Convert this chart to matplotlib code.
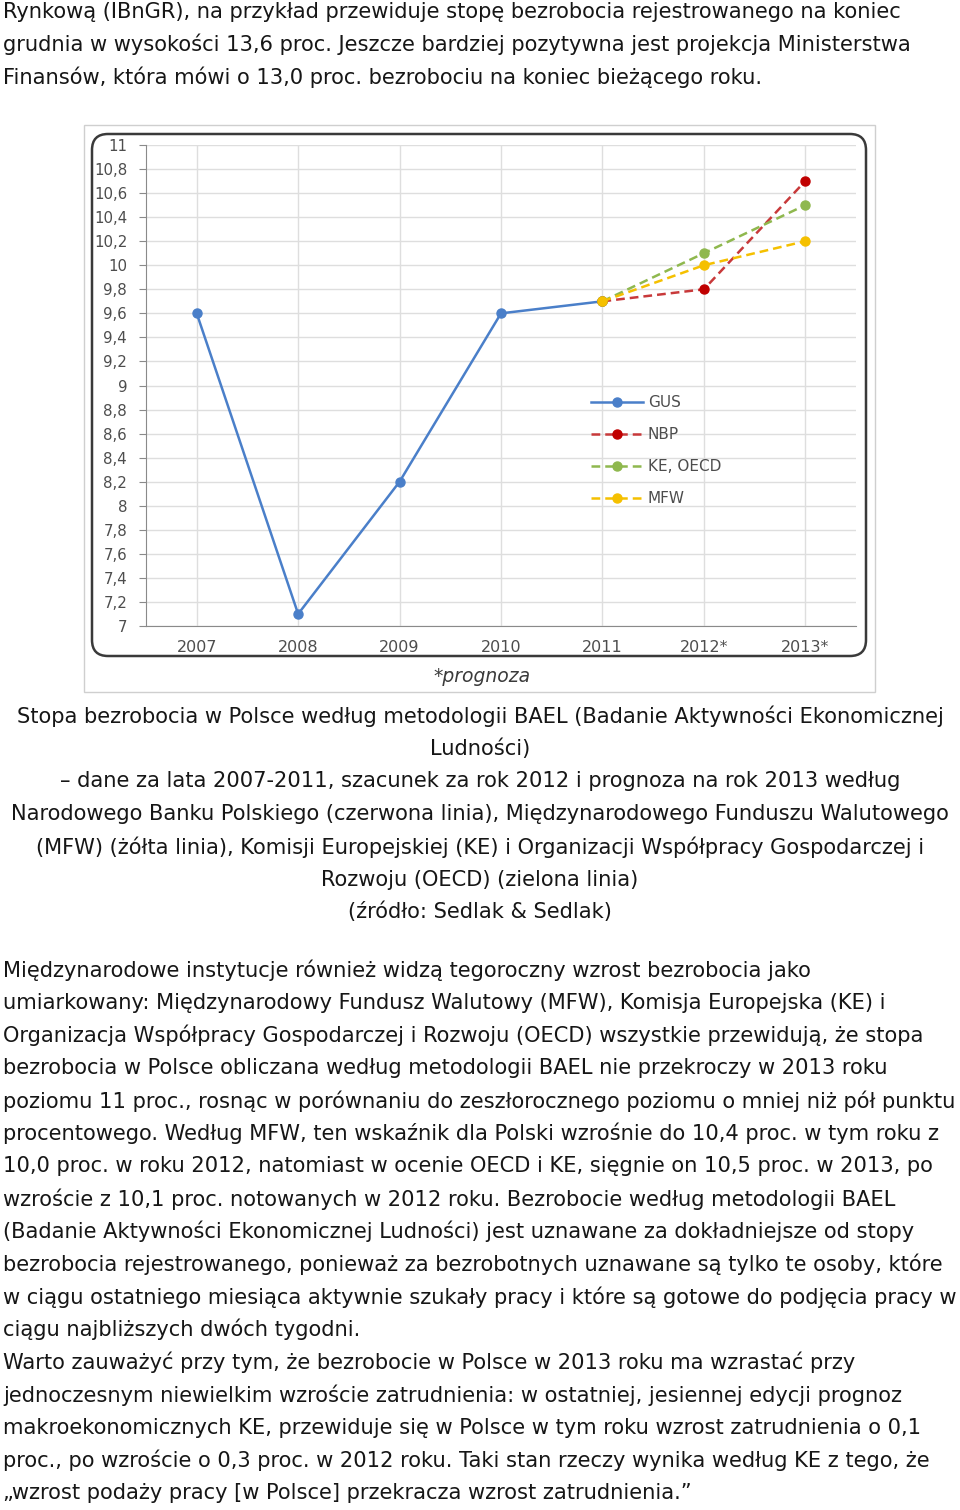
import matplotlib.pyplot as plt
from matplotlib.patches import FancyBboxPatch, Rectangle

W, H = 960, 1510

# chart data
years = ["2007", "2008", "2009", "2010", "2011", "2012*", "2013*"]
gus = [9.6, 7.1, 8.2, 9.6, 9.7]
nbp = [9.7, 9.8, 10.7]
ke_oecd = [9.7, 10.1, 10.5]
mfw = [9.7, 10.0, 10.2]
yticks = [7 + 0.2 * i for i in range(21)]

# page text
top_lines = [
    "Rynkową (IBnGR), na przykład przewiduje stopę bezrobocia rejestrowanego na koniec",
    "grudnia w wysokości 13,6 proc. Jeszcze bardziej pozytywna jest projekcja Ministerstwa",
    "Finansów, która mówi o 13,0 proc. bezrobociu na koniec bieżącego roku.",
]
caption_lines = [
    "Stopa bezrobocia w Polsce według metodologii BAEL (Badanie Aktywności Ekonomicznej",
    "Ludności)",
    "– dane za lata 2007-2011, szacunek za rok 2012 i prognoza na rok 2013 według",
    "Narodowego Banku Polskiego (czerwona linia), Międzynarodowego Funduszu Walutowego",
    "(MFW) (żółta linia), Komisji Europejskiej (KE) i Organizacji Współpracy Gospodarczej i",
    "Rozwoju (OECD) (zielona linia)",
    "(źródło: Sedlak & Sedlak)",
]
body_lines = [
    "Międzynarodowe instytucje również widzą tegoroczny wzrost bezrobocia jako",
    "umiarkowany: Międzynarodowy Fundusz Walutowy (MFW), Komisja Europejska (KE) i",
    "Organizacja Współpracy Gospodarczej i Rozwoju (OECD) wszystkie przewidują, że stopa",
    "bezrobocia w Polsce obliczana według metodologii BAEL nie przekroczy w 2013 roku",
    "poziomu 11 proc., rosnąc w porównaniu do zeszłorocznego poziomu o mniej niż pół punktu",
    "procentowego. Według MFW, ten wskaźnik dla Polski wzrośnie do 10,4 proc. w tym roku z",
    "10,0 proc. w roku 2012, natomiast w ocenie OECD i KE, sięgnie on 10,5 proc. w 2013, po",
    "wzroście z 10,1 proc. notowanych w 2012 roku. Bezrobocie według metodologii BAEL",
    "(Badanie Aktywności Ekonomicznej Ludności) jest uznawane za dokładniejsze od stopy",
    "bezrobocia rejestrowanego, ponieważ za bezrobotnych uznawane są tylko te osoby, które",
    "w ciągu ostatniego miesiąca aktywnie szukały pracy i które są gotowe do podjęcia pracy w",
    "ciągu najbliższych dwóch tygodni.",
    "Warto zauważyć przy tym, że bezrobocie w Polsce w 2013 roku ma wzrastać przy",
    "jednoczesnym niewielkim wzroście zatrudnienia: w ostatniej, jesiennej edycji prognoz",
    "makroekonomicznych KE, przewiduje się w Polsce w tym roku wzrost zatrudnienia o 0,1",
    "proc., po wzroście o 0,3 proc. w 2012 roku. Taki stan rzeczy wynika według KE z tego, że",
    "„wzrost podaży pracy [w Polsce] przekracza wzrost zatrudnienia.”",
]

plt.rcParams['font.family'] = ['DejaVu Sans']
fig = plt.figure(figsize=(W / 100, H / 100), dpi=100)

def fy(px):
    return 1 - px / H

TXT = '#161616'
FS = 15.1
LH = 32.7

for i, s in enumerate(top_lines):
    fig.text(3 / W, fy(12 + i * LH), s, fontsize=FS, color=TXT, va='center', ha='left')
for i, s in enumerate(caption_lines):
    fig.text(0.5, fy(716 + i * LH), s, fontsize=FS, color=TXT, va='center', ha='center')
for i, s in enumerate(body_lines):
    fig.text(3 / W, fy(970 + i * LH), s, fontsize=FS, color=TXT, va='center', ha='left')

# frames around the chart (inches from bottom-left)
def box(x0, y0, x1, y1):
    return x0 / 100, (H - y1) / 100, (x1 - x0) / 100, (y1 - y0) / 100

bx, by, bw, bh = box(84, 125, 875, 692)
fig.patches.append(Rectangle((bx, by), bw, bh, transform=fig.dpi_scale_trans,
                             fill=False, edgecolor='#cfcfcf', linewidth=1))
bx, by, bw, bh = box(92, 134, 866, 656)
fig.patches.append(FancyBboxPatch((bx, by), bw, bh, boxstyle="round,pad=0,rounding_size=0.16",
                                  transform=fig.dpi_scale_trans, fill=False,
                                  edgecolor='#3a3a3a', linewidth=1.8))

ax = fig.add_axes([146 / W, fy(626), (856 - 146) / W, (626 - 145) / H])
x_all = list(range(len(years)))
x_fc = x_all[4:]
dash = (0, (3.5, 2))

ax.plot(x_all[:5], gus, color='#4a7fc9', lw=1.8, marker='o', ms=6.5, label='GUS')
ax.plot(x_fc, nbp, color='#c8393a', lw=1.8, ls=dash, marker='o', ms=6.5,
        mfc='#c00000', mec='#c00000', label='NBP')
ax.plot(x_fc, ke_oecd, color='#8fb84e', lw=1.8, ls=dash, marker='o', ms=6.5, label='KE, OECD')
ax.plot(x_fc, mfw, color='#f5c000', lw=1.8, ls=dash, marker='o', ms=6.5, label='MFW')

ax.set_xlim(-0.5, 6.5)
ax.set_ylim(7, 11)
ax.set_yticks(yticks)
ax.set_yticklabels([f"{v:.1f}".rstrip('0').rstrip('.').replace('.', ',') for v in yticks])
ax.set_xticks(x_all)
ax.set_xticklabels(years)
ax.grid(True, color='#dedede', lw=1)
ax.set_axisbelow(True)
for side in ['top', 'right']:
    ax.spines[side].set_visible(False)
for side in ['left', 'bottom']:
    ax.spines[side].set_color('#8a8a8a')
ax.tick_params(axis='y', length=5, color='#8a8a8a', pad=8.5, labelsize=10.8, labelcolor='#4d4d4d')
ax.tick_params(axis='x', length=0, pad=10, labelsize=11.5, labelcolor='#4d4d4d')

leg = ax.legend(loc='upper left', bbox_to_anchor=(585 / W, fy(389)), bbox_transform=fig.transFigure,
                frameon=False, fontsize=11, handlelength=3.4, handletextpad=0.3,
                labelspacing=1.12, borderaxespad=0)
for t in leg.get_texts():
    t.set_color('#4d4d4d')

fig.text(482 / W, fy(676), "*prognoza", fontsize=13.5, style='italic', color='#3a3a3a',
         ha='center', va='center')

fig.savefig('out.png', dpi=100)
